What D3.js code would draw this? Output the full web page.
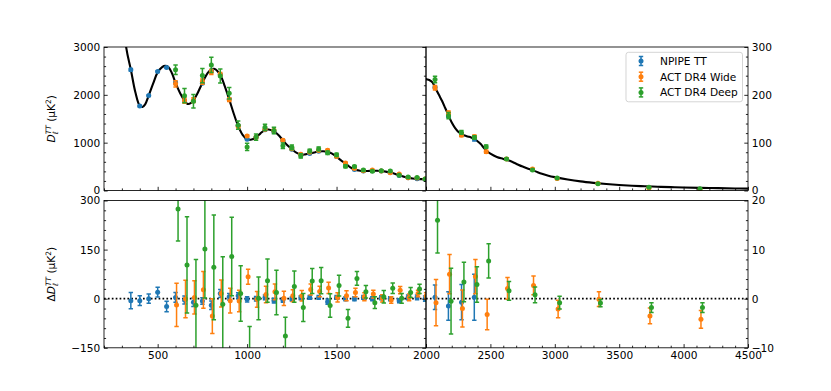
<!DOCTYPE html>
<html><head><meta charset="utf-8">
<script src="https://cdn.jsdelivr.net/npm/d3@7"></script>
<style>body{margin:0;background:#fff}svg{display:block}</style>
</head><body>
<svg id="chart" width="831" height="391"></svg>
<script>
// ---------- data ----------
const theoryEll = [250,275,300,325,350,375,400,415,430,450,475,500,525,542,560,580,600,625,650,667,685,700,720,740,760,780,800,815,835,855,875,900,925,950,975,1000,1025,1050,1075,1100,1120,1150,1175,1200,1225,1250,1275,1300,1325,1350,1375,1400,1425,1450,1475,1500,1525,1550,1575,1600,1625,1650,1675,1700,1725,1750,1775,1800,1825,1850,1875,1900,1925,1950,1975,2000,2025,2050,2075,2100,2125,2150,2175,2200,2225,2250,2275,2300,2325,2350,2375,2400,2425,2450,2475,2500,2550,2600,2650,2700,2750,2800,2850,2900,2950,3000,3100,3200,3300,3400,3500,3600,3700,3800,3900,4000,4200,4400,4500];
const theoryD = [5550,4900,3950,2970,2530,2060,1770,1745,1800,1985,2240,2470,2580,2605,2580,2450,2250,2040,1880,1810,1825,1885,2010,2170,2330,2460,2530,2545,2495,2380,2180,1905,1610,1350,1165,1072,1065,1115,1195,1265,1275,1235,1160,1050,945,865,790,750,755,772,795,815,822,810,770,705,630,565,490,440,418,405,408,413,412,407,395,375,350,320,290,265,252,243,237,233,231,226,213,200,187,172,157,142,131,123,118,115,113,111,108,103,97,89,82,77,70,66,62,56,50,45,40,35,31,28,23,19,16,13.5,11.5,10,8.8,7.8,7,6.3,5.2,4.3,4];

const npipeEll = [350,400,450,500,550,600,650,700,750,800,850,900,950,1000,1050,1100,1150,1200,1250,1300,1350,1400,1450,1500,1550,1600,1650,1700,1750,1800,1850,1900,1950,1995,2070,2174,2276,2375];
const npipeD = [2524,1764,1985,2490,2570,2254,1876,1874,2243,2510,2426,1911,1359,1070,1115,1269,1229,1046,864,753,776,819,801,709,565,440,409,413,410,375,314,269,247,234,216,156,117,108];
const npipeRes = [-6,-6,0,20,-24,4,-4,-11,-7,-20,16,6,9,-2,0,4,-6,-4,-1,3,4,4,-9,4,0,0,4,0,3,0,-6,4,4,0,0.3,-1.5,-0.7,0.3];
const npipeErr = [25,15,14,15,16,15,12,13,10,13,12,10,9,8,7,7,7,7,6,6,6,6,8,6,6,6,6,6,6,6,6,7,7,8,2.5,2.9,3.6,4.7];

const actEll = [600,650,700,750,800,850,900,950,1000,1050,1100,1150,1200,1250,1300,1350,1400,1450,1500,1550,1600,1650,1700,1750,1800,1850,1900,1950,1995,2070,2175,2275,2376,2467,2625,2827,3018,3335,3731,4127];
const wideD = [2231,1879,1889,2277,2477,2426,1899,1343,1139,1113,1278,1256,1051,874,759,800,837,843,709,574,459,411,427,408,371,346,269,259,242,215,162,116,112.5,80.8,66.1,44.7,24.9,14.9,5,1.4];
const wideRes = [-19,-1,4,27,-53,16,-6,-7,67,-2,13,21,1,9,9,28,22,33,4,9,19,6,14,1,-4,26,4,16,8,-0.8,5,-2,4.5,-3.2,2.1,2.7,-2.1,-0.1,-3.5,-4.2];
const wideErr = [66,57,51,56,53,41,38,33,23,24,25,24,22,18,16,17,16,17,14,15,13,12,12,11,10,11,10,10,10,4.7,4.0,3.75,3.5,3.1,2.2,1.9,1.8,1.5,1.6,1.8];
const deepD = [2524,1983,1865,2402,2626,2393,2034,1366,912,1116,1320,1254,936,902,723,826,870,789,745,505,502,426,401,413,407,321,284,273,240,232,156.5,121.4,110.9,91.7,65.6,42.8,26.2,14.1,6.7,3.8];
const deepRes = [274,103,-20,152,96,-17,129,16,-160,1,55,19,-114,37,-27,54,55,-21,40,-60,62,21,-12,6,32,1,19,30,6,16,-0.5,3.4,2.9,7.7,1.6,0.8,-0.8,-0.9,-1.8,-1.8];
const deepErr = [98,147,140,150,160,145,120,85,75,65,66,68,57,48,43,38,40,36,32,27,21,19,18,19,16,15,15,14,14,6.7,6.7,4.0,3.6,3.5,1.9,1.6,1.3,0.75,1.0,1.0];

const seriesNames = ["NPIPE TT","ACT DR4 Wide","ACT DR4 Deep"];
const seriesColors = ["#1f77b4","#ff7f0e","#2ca02c"];

const xLeftMajor = [500,1000,1500,2000];
const xRightMajor = [2000,2500,3000,3500,4000,4500];
const yTopLeftMajor = [0,1000,2000,3000];
const yTopRightMajor = [0,100,200,300];
const yBotLeftMajor = [-150,0,150,300];
const yBotRightMajor = [-10,0,10,20];

// ---------- layout ----------
const FONT = "DejaVu Sans";
const FS = 10.6;
const L = 104, M = 426, R = 748;
const topY0 = 47, topY1 = 190.5, botY0 = 200.5, botY1 = 347.8;

const xL = d3.scaleLinear().domain([200,2000]).range([L,M]);
const xR = d3.scaleLinear().domain([2000,4500]).range([M,R]);
const yTL = d3.scaleLinear().domain([0,3000]).range([topY1,topY0]);
const yTR = d3.scaleLinear().domain([0,300]).range([topY1,topY0]);
const yBL = d3.scaleLinear().domain([-150,300]).range([botY1,botY0]);
const yBR = d3.scaleLinear().domain([-10,20]).range([botY1,botY0]);

const series = [
  {name:seriesNames[0], color:seriesColors[0], ell:npipeEll, d:npipeD, res:npipeRes, err:npipeErr, shift:0},
  {name:seriesNames[1], color:seriesColors[1], ell:actEll, d:wideD, res:wideRes, err:wideErr, shift:1},
  {name:seriesNames[2], color:seriesColors[2], ell:actEll, d:deepD, res:deepRes, err:deepErr, shift:2.5}
];

const svg = d3.select("#chart");
svg.append("rect").attr("width",831).attr("height",391).attr("fill","#fff");
const defs = svg.append("defs");

const panels = [
  {id:"tl", x:xL, y:yTL, top:true, lo:200, hi:2000},
  {id:"tr", x:xR, y:yTR, top:true, lo:2000, hi:4500},
  {id:"bl", x:xL, y:yBL, top:false, lo:200, hi:2000},
  {id:"br", x:xR, y:yBR, top:false, lo:2000, hi:4500}
];

const CAP = 2.2, ELW = 1.5, MR = 2.5;

panels.forEach(p => {
  const [x0,x1] = p.x.range();
  const [yb,yt] = p.y.range();
  defs.append("clipPath").attr("id","clip-"+p.id)
    .append("rect").attr("x",x0).attr("y",yt).attr("width",x1-x0).attr("height",yb-yt);
  const g = svg.append("g").attr("clip-path",`url(#clip-${p.id})`);
  if (p.top) {
    g.append("path")
      .attr("d", d3.line().x(i=>p.x(theoryEll[i])).y(i=>p.y(theoryD[i])).curve(d3.curveCatmullRom)(d3.range(theoryEll.length)))
      .attr("fill","none").attr("stroke","#000").attr("stroke-width",2.1);
  } else {
    g.append("line").attr("x1",x0).attr("x2",x1).attr("y1",p.y(0)).attr("y2",p.y(0))
      .attr("stroke","#000").attr("stroke-width",1.7).attr("stroke-dasharray","1.7,2.2");
  }
  series.forEach(s => {
    const vals = p.top ? s.d : s.res;
    const dx = p.top ? 0 : s.shift;
    const sg = g.append("g");
    d3.range(s.ell.length).filter(i => s.ell[i] > p.lo && s.ell[i] < p.hi).forEach(i => {
      const cx = p.x(s.ell[i]) + dx;
      const ya = p.y(vals[i]-s.err[i]), yb2 = p.y(vals[i]+s.err[i]);
      sg.append("line").attr("x1",cx).attr("x2",cx).attr("y1",ya).attr("y2",yb2)
        .attr("stroke",s.color).attr("stroke-width",ELW);
      [ya,yb2].forEach(yy => sg.append("line").attr("x1",cx-CAP).attr("x2",cx+CAP).attr("y1",yy).attr("y2",yy)
        .attr("stroke",s.color).attr("stroke-width",ELW));
      sg.append("circle").attr("cx",cx).attr("cy",p.y(vals[i])).attr("r",MR).attr("fill",s.color);
    });
  });
});

// ---------- axes ----------
const fmt = d3.format("d");
function axis(gen, tx, ty, values, size, labelFn) {
  const g = svg.append("g").attr("transform",`translate(${tx},${ty})`)
    .call(gen.tickValues(values).tickSize(size).tickSizeOuter(0).tickPadding(3.7)
      .tickFormat(labelFn ? labelFn : () => ""));
  g.select(".domain").remove();
  g.attr("font-family",FONT).attr("font-size",FS);
  g.selectAll("line").attr("stroke","#000").attr("stroke-width",0.85);
  g.selectAll("text").attr("fill","#000");
  return g;
}
const MAJ = -3.7, MIN = -2.1;
function minorOf(scale, step, majors) {
  const [a,b] = scale.domain();
  const lo = Math.min(a,b), hi = Math.max(a,b);
  return d3.range(Math.ceil(lo/step)*step, hi+0.001, step).filter(v => !majors.includes(v));
}
// x axes
[[topY1,false],[botY1,true]].forEach(([yy,lab]) => {
  axis(d3.axisBottom(xL),0,yy,xLeftMajor,MAJ, lab ? fmt : null);
  axis(d3.axisBottom(xL),0,yy,minorOf(xL,100,xLeftMajor),MIN,null);
  axis(d3.axisBottom(xR),0,yy,xRightMajor,MAJ, lab ? (d => d===2000 ? "" : fmt(d)) : null);
  axis(d3.axisBottom(xR),0,yy,minorOf(xR,100,xRightMajor),MIN,null);
});
// y axes
[[yTL,yTR,yTopLeftMajor,yTopRightMajor,200,20],[yBL,yBR,yBotLeftMajor,yBotRightMajor,30,2]].forEach(([yl,yr,ml,mr,sl,sr]) => {
  axis(d3.axisLeft(yl),L,0,ml,MAJ,fmt);
  axis(d3.axisLeft(yl),L,0,minorOf(yl,sl,ml),MIN,null);
  axis(d3.axisRight(yl),M,0,ml,MAJ,null);
  axis(d3.axisRight(yl),M,0,minorOf(yl,sl,ml),MIN,null);
  axis(d3.axisRight(yr),R,0,mr,MAJ,fmt);
  axis(d3.axisRight(yr),R,0,minorOf(yr,sr,mr),MIN,null);
});
// frames
panels.forEach(p => {
  const [x0,x1] = p.x.range(); const [yb,yt] = p.y.range();
  svg.append("rect").attr("x",x0).attr("y",yt).attr("width",x1-x0).attr("height",yb-yt)
    .attr("fill","none").attr("stroke","#000").attr("stroke-width",0.85);
});

// ---------- y labels ----------
function yLabel(cx, cy, delta) {
  const t = svg.append("text").attr("transform",`translate(${cx},${cy}) rotate(-90)`)
    .attr("font-family",FONT).attr("font-size",FS).attr("text-anchor","middle").attr("fill","#000");
  if (delta) t.append("tspan").text("Δ");
  t.append("tspan").attr("font-style","italic").text("D");
  const sub = t.append("tspan").attr("font-style","italic").attr("font-size",FS*0.7).attr("dy",3).text("ℓ");
  const w = sub.node().getComputedTextLength();
  t.append("tspan").attr("font-style","italic").attr("font-size",FS*0.7).attr("dx",-w).attr("dy",-7.5).text("TT");
  t.append("tspan").attr("dy",4.5).text(" (μK");
  t.append("tspan").attr("font-size",FS*0.7).attr("dy",-4.5).text("2");
  t.append("tspan").attr("dy",4.5).text(")");
}
yLabel(55, (topY0+topY1)/2, false);
yLabel(55, (botY0+botY1)/2, true);

// ---------- legend ----------
const lg = svg.append("g");
lg.append("rect").attr("x",626).attr("y",52.3).attr("width",116.5).attr("height",49.5).attr("rx",2.5)
  .attr("fill","#fff").attr("fill-opacity",0.8).attr("stroke","#ccc").attr("stroke-width",0.85);
series.forEach((s,i) => {
  const cy = 61 + i*15.7, cx = 641;
  lg.append("line").attr("x1",cx).attr("x2",cx).attr("y1",cy-4.5).attr("y2",cy+4.5).attr("stroke",s.color).attr("stroke-width",ELW);
  [cy-4.5,cy+4.5].forEach(yy => lg.append("line").attr("x1",cx-CAP).attr("x2",cx+CAP).attr("y1",yy).attr("y2",yy).attr("stroke",s.color).attr("stroke-width",ELW));
  lg.append("circle").attr("cx",cx).attr("cy",cy).attr("r",MR).attr("fill",s.color);
  lg.append("text").attr("x",660).attr("y",cy+3.8).attr("font-family",FONT).attr("font-size",FS).attr("fill","#000").text(s.name);
});
</script>
</body></html>
